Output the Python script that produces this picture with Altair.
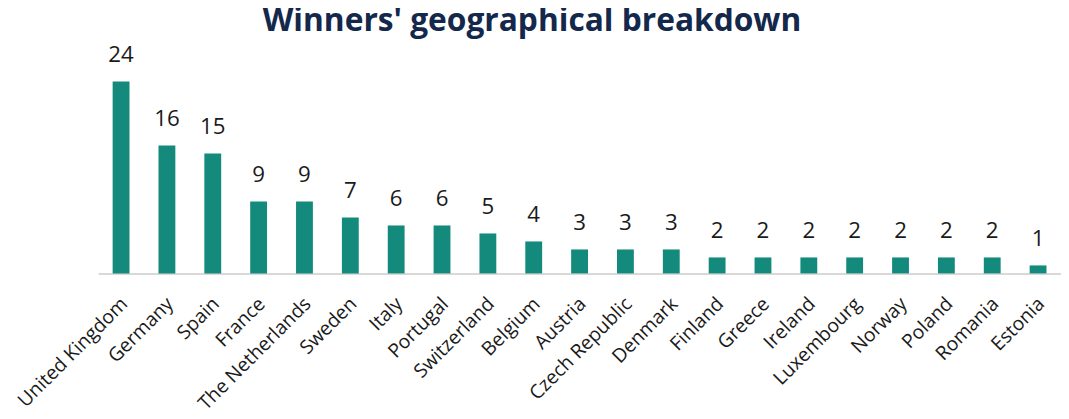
import altair as alt
import pandas as pd

countries = ["United Kingdom", "Germany", "Spain", "France", "The Netherlands", "Sweden",
             "Italy", "Portugal", "Switzerland", "Belgium", "Austria", "Czech Republic",
             "Denmark", "Finland", "Greece", "Ireland", "Luxembourg", "Norway", "Poland",
             "Romania", "Estonia"]
winners = [24, 16, 15, 9, 9, 7, 6, 6, 5, 4, 3, 3, 3, 2, 2, 2, 2, 2, 2, 2, 1]

df = pd.DataFrame({"country": countries, "winners": winners})

FONT = "Open Sans"
TEAL = "#138a7b"

base = alt.Chart(df).encode(
    x=alt.X("country:N", sort=None, title=None,
            scale=alt.Scale(paddingInner=0, paddingOuter=0),
            axis=alt.Axis(labelAngle=-45, labelFontSize=19.5, labelFont=FONT,
                          labelColor="#1a1a1a", ticks=False, domainColor="#d9d9d9",
                          domainWidth=2, labelPadding=21, labelOffset=-3,
                          labelLimit=300)),
    y=alt.Y("winners:Q", title=None, axis=None,
            scale=alt.Scale(domain=[0, 29], nice=False)),
)

bars = base.mark_bar(size=17, color=TEAL)
labels = base.mark_text(dy=-15, baseline="bottom", fontSize=22.5, font=FONT,
                        color="#1a1a1a").encode(text="winners:Q")

chart = (bars + labels).properties(
    width=972, height=234,
    title=alt.TitleParams("Winners' geographical breakdown", font=FONT, fontSize=32,
                          fontWeight="bold", color="#14284b", anchor="middle",
                          dx=-48, offset=4),
    autosize=alt.AutoSizeParams(type="none"),
    padding={"left": 91, "top": 32, "right": 0, "bottom": 145},
).configure_view(stroke=None)

chart.save("out.html", embed_options={"renderer": "svg", "actions": False})
